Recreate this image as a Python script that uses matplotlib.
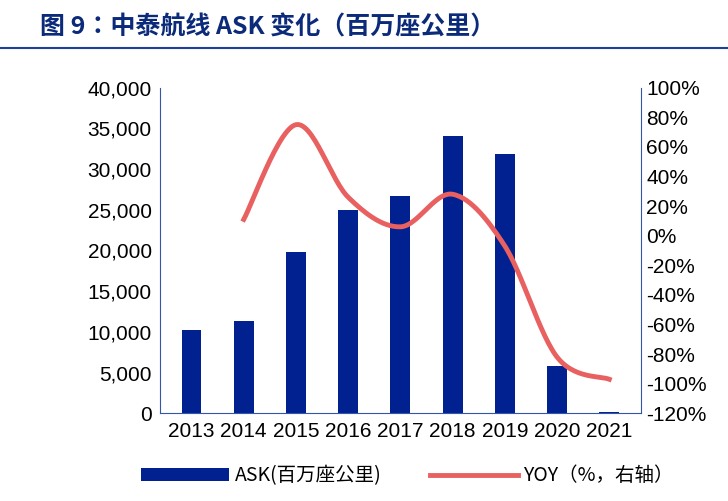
import numpy as np
import glob
import matplotlib
matplotlib.use("Agg")
import matplotlib.pyplot as plt
from matplotlib.font_manager import FontProperties

years = ["2013","2014","2015","2016","2017","2018","2019","2020","2021"]
ask = [10200, 11300, 19800, 25000, 26700, 34100, 31800, 5800, 200]
yoy_years = ["2014","2015","2016","2017","2018","2019","2020","2021"]
yoy = [11, 75, 26, 6, 28, -7, -82, -97]

def find(pat):
    r = sorted(glob.glob("/usr/share/fonts/**/" + pat, recursive=True))
    return r[0] if r else None
reg = find("NotoSansCJK-Regular.ttc") or find("NotoSansCJK*.ttc")
bold = find("NotoSansCJK-Bold.ttc") or reg
fp_title = FontProperties(fname=bold, size=18) if bold else FontProperties(size=18, weight="bold")
fp_leg = FontProperties(fname=reg, size=14) if reg else FontProperties(size=14)

plt.rcParams["font.family"] = "Liberation Sans"

fig = plt.figure(figsize=(7.28, 5.01), dpi=100)
fig.text(0.055, 0.945, "图 9：中泰航线 ASK 变化（百万座公里）", fontproperties=fp_title,
         color="#0b2a7a", va="center")
fig.add_artist(plt.Line2D([0.0, 1.0], [0.905, 0.905], color="#1f3f99", lw=1.5))

ax = fig.add_axes([0.22, 0.175, 0.66, 0.65])
x = np.arange(len(years))
ax.bar(x, ask, width=0.38, color="#00218f", label="ASK(百万座公里)")
ax.set_ylim(0, 40000)
ax.set_yticks(range(0, 40001, 5000))
ax.set_yticklabels([f"{v:,}" for v in range(0, 40001, 5000)], fontsize=15)
ax.set_xticks(x)
ax.set_xticklabels(years, fontsize=15)
ax.set_xlim(-0.6, len(years) - 0.4)
for s in ["top", "right"]:
    ax.spines[s].set_visible(False)
ax.spines["left"].set_color("#3355aa")
ax.spines["bottom"].set_color("#3355aa")
ax.tick_params(length=0, pad=6)

ax2 = ax.twinx()
xi = np.array([years.index(y) for y in yoy_years], dtype=float)
yi = np.array(yoy, dtype=float)
P = np.vstack([xi, yi]).T
P = np.vstack([P[0], P, P[-1]])
pts = []
for i in range(1, len(P) - 2):
    p0, p1, p2, p3 = P[i-1], P[i], P[i+1], P[i+2]
    for t in np.linspace(0, 1, 30, endpoint=False):
        pts.append(0.5 * ((2*p1) + (-p0+p2)*t + (2*p0-5*p1+4*p2-p3)*t**2 + (-p0+3*p1-3*p2+p3)*t**3))
pts.append(P[-2])
pts = np.array(pts)
ax2.plot(pts[:, 0], pts[:, 1], color="#e8605f", lw=3.5, label="YOY（%，右轴）")
ax2.set_ylim(-120, 100)
ax2.set_yticks(range(-120, 101, 20))
ax2.set_yticklabels([f"{v}%" for v in range(-120, 101, 20)], fontsize=15)
for s in ["top", "left", "bottom"]:
    ax2.spines[s].set_visible(False)
ax2.spines["right"].set_color("#3355aa")
ax2.tick_params(length=0, pad=4)

h1, l1 = ax.get_legend_handles_labels()
h2, l2 = ax2.get_legend_handles_labels()
fig.legend(h1 + h2, l1 + l2, loc="center", bbox_to_anchor=(0.56, 0.05), ncol=2, frameon=False,
           prop=fp_leg, handlelength=4.5, handletextpad=0.3, columnspacing=2.5)
fig.savefig("out.png", dpi=100)
